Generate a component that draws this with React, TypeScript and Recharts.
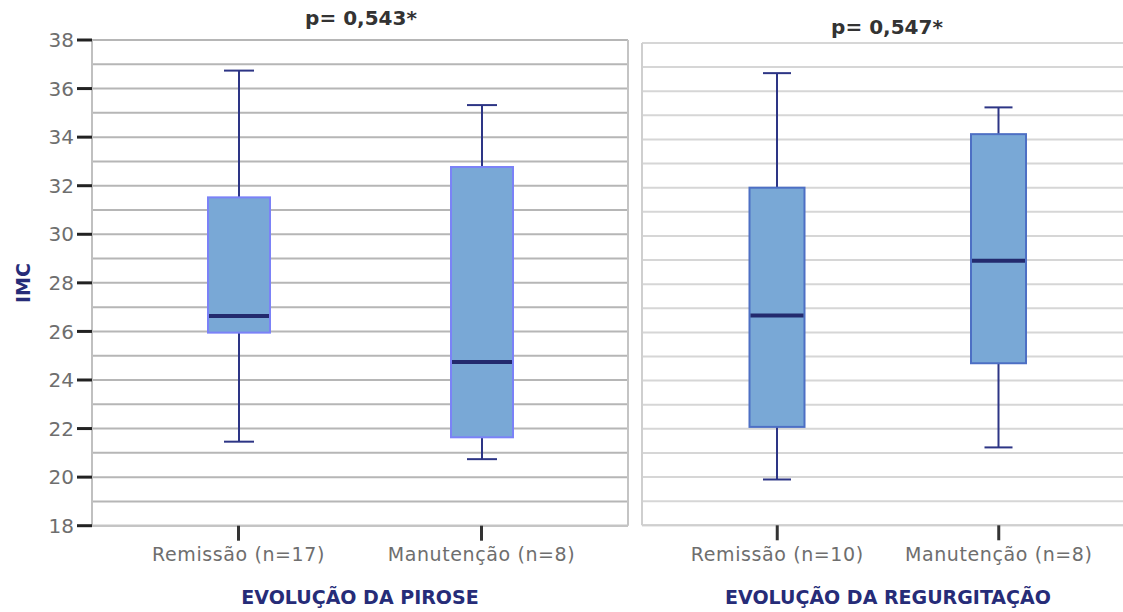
import React from "react"
import { ComposedChart, Bar, XAxis, YAxis, CartesianGrid } from "recharts"

// IMC by evolution of pyrosis / regurgitation
const pirosGroups = ["Remissão (n=17)", "Manutenção (n=8)"]
const pirosMin = [21.46, 20.74]
const pirosQ1 = [25.95, 21.64]
const pirosMedian = [26.63, 24.74]
const pirosQ3 = [31.52, 32.77]
const pirosMax = [36.74, 35.32]

const regurgGroups = ["Remissão (n=10)", "Manutenção (n=8)"]
const regurgMin = [19.9, 21.23]
const regurgQ1 = [22.08, 24.72]
const regurgMedian = [26.7, 28.97]
const regurgQ3 = [32.0, 34.22]
const regurgMax = [36.75, 35.33]

const yTicks = [18, 20, 22, 24, 26, 28, 30, 32, 34, 36, 38]
const gridValues = [18, 19, 20, 21, 22, 23, 24, 25, 26, 27, 28, 29, 30, 31, 32, 33, 34, 35, 36, 37, 38]

const buildRows = (groups: string[], mn: number[], q1: number[], md: number[], q3: number[], mx: number[]) =>
  groups.map((g, i) => ({ group: g, min: mn[i], q1: q1[i], median: md[i], q3: q3[i], max: mx[i] }))

const pirosRows = buildRows(pirosGroups, pirosMin, pirosQ1, pirosMedian, pirosQ3, pirosMax)
const regurgRows = buildRows(regurgGroups, regurgMin, regurgQ1, regurgMedian, regurgQ3, regurgMax)

const FONT = "'DejaVu Sans', sans-serif"
const NAVY = "#262c78"

function makeBoxShape(boxStroke: string, capWidth: number) {
  return function BoxShape(props: any) {
    const { x, y, width, height, payload } = props
    if (!payload) return null
    const top = Math.min(y, y + height)
    const h = Math.abs(height)
    const span = payload.max - payload.min
    const yOf = (v: number) => top + (h * (payload.max - v)) / span
    const cx = x + width / 2
    const yQ3 = yOf(payload.q3)
    const yQ1 = yOf(payload.q1)
    const yMed = yOf(payload.median)
    return (
      <g>
        <line x1={cx} x2={cx} y1={top} y2={yQ3} stroke="#2d3585" strokeWidth={2} />
        <line x1={cx} x2={cx} y1={yQ1} y2={top + h} stroke="#2d3585" strokeWidth={2} />
        <line x1={cx - capWidth / 2} x2={cx + capWidth / 2} y1={top} y2={top} stroke="#2d3585" strokeWidth={2} />
        <line x1={cx - capWidth / 2} x2={cx + capWidth / 2} y1={top + h} y2={top + h} stroke="#2d3585" strokeWidth={2} />
        <rect x={x} y={yQ3} width={width} height={yQ1 - yQ3} fill="#79a8d6" stroke={boxStroke} strokeWidth={2} />
        <line x1={x + 1} x2={x + width - 1} y1={yMed} y2={yMed} stroke="#232a6e" strokeWidth={4} />
      </g>
    )
  }
}

const NoTick = () => <g />

const tickStyle = { fill: "#6e6e6e", fontSize: 19, fontFamily: FONT, letterSpacing: 0.6 }
const axisTitleStyle = { fill: NAVY, fontSize: 19, fontFamily: FONT, fontWeight: "bold" as const }
const titleStyle: React.CSSProperties = {
  position: "absolute", width: 200, textAlign: "center",
  fontFamily: FONT, fontWeight: "bold", fontSize: 20, color: "#333",
}

export default function App() {
  return (
    <div style={{ position: "fixed", left: 0, top: 0, width: 1123, height: 612, overflow: "hidden", background: "#fff" }}>
      <div style={{ position: "absolute", left: 0, top: 0 }}>
        <ComposedChart width={640} height={612} data={pirosRows} margin={{ top: 40, right: 11, bottom: 0, left: 0 }}>
          <CartesianGrid vertical={false} horizontalValues={gridValues} stroke="#b6b6b6" strokeWidth={2} />
          <XAxis
            dataKey="group"
            padding={{ left: 25, right: 25 }}
            height={86.3}
            axisLine={{ stroke: "#c4c4c4", strokeWidth: 2 }}
            tickLine={{ stroke: "#333", strokeWidth: 3 }}
            tickSize={15}
            tickMargin={7}
            tick={tickStyle}
            label={{ value: "EVOLUÇÃO DA PIROSE", position: "insideBottom", offset: 8, style: axisTitleStyle }}
          />
          <YAxis
            type="number"
            domain={[18, 38]}
            ticks={yTicks}
            width={92}
            axisLine={{ stroke: "#c0c0c0", strokeWidth: 2 }}
            tickLine={{ stroke: "#222", strokeWidth: 3 }}
            tickSize={15}
            tickMargin={3}
            tick={{ fill: "#6e6e6e", fontSize: 20, fontFamily: FONT }}
          />
          <YAxis
            yAxisId="frame"
            orientation="right"
            type="number"
            domain={[18, 38]}
            ticks={yTicks}
            width={1}
            tick={false}
            tickLine={false}
            axisLine={{ stroke: "#c4c4c4", strokeWidth: 2 }}
          />
          <Bar
            dataKey={(d: any) => [d.min, d.max]}
            barSize={62}
            shape={makeBoxShape("#7b82f7", 30)}
            isAnimationActive={false}
          />
        </ComposedChart>
      </div>
      <div style={{ position: "absolute", left: 641, top: 0 }}>
        <ComposedChart width={501} height={612} data={regurgRows} margin={{ top: 43, right: 8, bottom: 0, left: 0 }}>
          <CartesianGrid vertical={false} horizontalValues={gridValues} stroke="#d6d6d6" strokeWidth={2} />
          <XAxis
            dataKey="group"
            padding={{ left: 24.5, right: 24.5 }}
            height={86.7}
            axisLine={{ stroke: "#cfcfcf", strokeWidth: 2 }}
            tickLine={{ stroke: "#333", strokeWidth: 3 }}
            tickSize={15}
            tickMargin={7}
            tick={tickStyle}
            label={{ value: "EVOLUÇÃO DA REGURGITAÇÃO", position: "insideBottom", offset: 8, style: axisTitleStyle }}
          />
          <YAxis
            type="number"
            domain={[18, 38]}
            ticks={yTicks}
            width={1}
            tick={NoTick}
            tickLine={false}
            axisLine={{ stroke: "#cfcfcf", strokeWidth: 2 }}
          />
          <Bar
            dataKey={(d: any) => [d.min, d.max]}
            barSize={55}
            shape={makeBoxShape("#4d6fc4", 28)}
            isAnimationActive={false}
          />
        </ComposedChart>
      </div>
      <div style={{ ...titleStyle, left: 261, top: 6 }}>p= 0,543*</div>
      <div style={{ ...titleStyle, left: 787, top: 15 }}>p= 0,547*</div>
      <div
        style={{
          position: "absolute", left: 22.5, top: 283, transform: "translate(-50%, -50%) rotate(-90deg)",
          fontFamily: FONT, fontWeight: "bold", fontSize: 19, color: NAVY, whiteSpace: "nowrap",
        }}
      >
        IMC
      </div>
    </div>
  )
}
